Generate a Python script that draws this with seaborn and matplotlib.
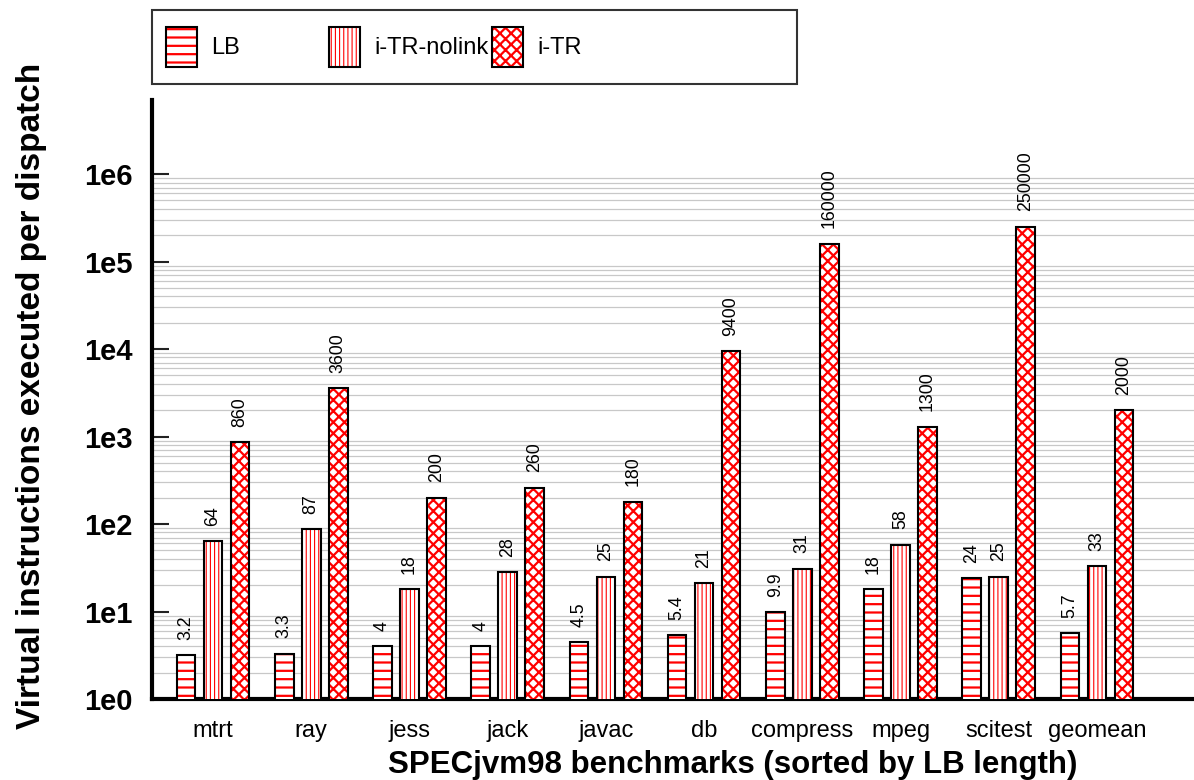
import math
import matplotlib
matplotlib.use("Agg")
import matplotlib.pyplot as plt
import matplotlib.patches as mpatches
import matplotlib.colors as mcolors
from matplotlib.ticker import FixedLocator, FuncFormatter, NullFormatter
import seaborn as sns
import pandas as pd

benchmarks = ["mtrt", "ray", "jess", "jack", "javac", "db", "compress", "mpeg", "scitest", "geomean"]
series_names = ["LB", "i-TR-nolink", "i-TR"]
lb_values = [3.2, 3.3, 4, 4, 4.5, 5.4, 9.9, 18, 24, 5.7]
nolink_values = [64, 87, 18, 28, 25, 21, 31, 58, 25, 33]
itr_values = [860, 3600, 200, 260, 180, 9400, 160000, 1300, 250000, 2000]
ytick_exponents = [0, 1, 2, 3, 4, 5, 6]

df = pd.DataFrame({
    "benchmark": benchmarks * 3,
    "series": [series_names[0]] * len(benchmarks) + [series_names[1]] * len(benchmarks) + [series_names[2]] * len(benchmarks),
    "value": lb_values + nolink_values + itr_values,
})

sns.set_style("ticks")
plt.rcParams["font.family"] = ["Liberation Sans", "DejaVu Sans"]
plt.rcParams["hatch.linewidth"] = 1.4
for k in ["text.color", "axes.labelcolor", "xtick.color", "ytick.color"]:
    plt.rcParams[k] = "black"

RED = mcolors.to_rgba("#ff0000")
hatches = ["--", "||||", "xxx"]
hatch_lw = [1.6, 0.8, 1.6]

fig = plt.figure(figsize=(11.94, 7.8), dpi=100)
ax = fig.add_axes([152 / 1194, 81 / 780, 1042 / 1194, 599 / 780])

sns.barplot(data=df, x="benchmark", y="value", hue="series", order=benchmarks,
            hue_order=series_names, palette=["white"] * 3, width=0.825, gap=0.31,
            errorbar=None, log_scale=True, legend=False, ax=ax,
            edgecolor="black", linewidth=1.5, saturation=1)

for cont, h, hl in zip(ax.containers, hatches, hatch_lw):
    for p in cont:
        p.set_hatch(h)
        p._hatch_color = RED
        if hasattr(p, "set_hatch_linewidth"):
            p.set_hatch_linewidth(hl)
        p.set_zorder(3)

value_lists = [lb_values, nolink_values, itr_values]
for cont, vals in zip(ax.containers, value_lists):
    ax.bar_label(cont, labels=["%g" % v for v in vals], rotation=90, padding=11,
                 fontsize=12.8, color="black")

ax.set_yscale("log")
ax.set_ylim(1, 10 ** 6.846)
ax.set_xlim(-0.621, 9.988)
ax.yaxis.set_major_locator(FixedLocator([10.0 ** e for e in ytick_exponents]))
ax.yaxis.set_major_formatter(FuncFormatter(lambda v, p: "1e%d" % round(math.log10(v))))
minor_vals = [m * 10.0 ** e for e in ytick_exponents[:-1] for m in range(2, 10)]
ax.yaxis.set_minor_locator(FixedLocator(minor_vals))
ax.yaxis.set_minor_formatter(NullFormatter())
ax.grid(False)
ax.yaxis.grid(True, which="minor", color="#c8c8c8", linewidth=0.9)
ax.set_axisbelow(True)

ax.tick_params(axis="y", which="major", direction="in", length=12, width=1.5,
               color="#222222", pad=14, labelsize=21)
ax.tick_params(axis="y", which="minor", length=0)
ax.tick_params(axis="x", length=0, pad=15, labelsize=17)
for lab in ax.get_yticklabels():
    lab.set_fontweight("bold")

for s in ["top", "right"]:
    ax.spines[s].set_visible(False)
for s in ["left", "bottom"]:
    ax.spines[s].set_linewidth(3)
    ax.spines[s].set_color("black")

ax.set_xlabel("SPECjvm98 benchmarks (sorted by LB length)", fontsize=22.5, fontweight="bold")
ax.xaxis.set_label_coords((733 - 152) / 1042, -(750 - 699) / 599)
ax.set_ylabel("Virtual instructions executed per dispatch", fontsize=24, fontweight="bold")
ax.yaxis.set_label_coords(-(152 - 47) / 1042, (699 - 396) / 599)

# legend
legend_x = [166, 329, 492]
for name, h, hl, lx in zip(series_names, hatches, hatch_lw, legend_x):
    handle = mpatches.Patch(facecolor="white", edgecolor="black", linewidth=1.5, hatch=h, label=name)
    leg = fig.legend(handles=[handle], loc="center left",
                     bbox_to_anchor=(lx / 1194, 1 - 47 / 780), frameon=False,
                     fontsize=17, handlelength=1.31, handleheight=2.17,
                     handletextpad=0.62, borderpad=0, borderaxespad=0)
    for p in leg.get_patches():
        p._hatch_color = RED
        if hasattr(p, "set_hatch_linewidth"):
            p.set_hatch_linewidth(hl)

frame = mpatches.Rectangle((152 / 1194, 1 - 84 / 780), 645 / 1194, 74 / 780,
                           transform=fig.transFigure, fill=False,
                           edgecolor="#333333", linewidth=1.5)
fig.add_artist(frame)

fig.savefig("out.png", dpi=100)
